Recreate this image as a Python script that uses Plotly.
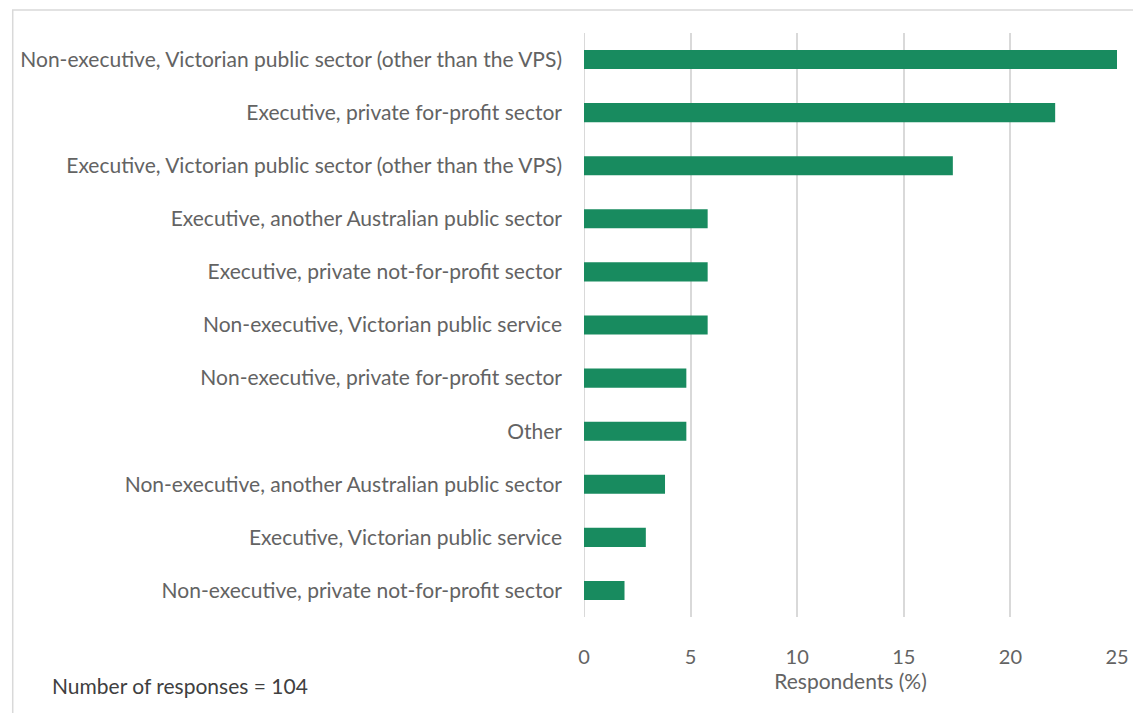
import plotly.graph_objects as go

categories = [
    "Non-executive, Victorian public sector (other than the VPS)",
    "Executive, private for-profit sector",
    "Executive, Victorian public sector (other than the VPS)",
    "Executive, another Australian public sector",
    "Executive, private not-for-profit sector",
    "Non-executive, Victorian public service",
    "Non-executive, private for-profit sector",
    "Other",
    "Non-executive, another Australian public sector",
    "Executive, Victorian public service",
    "Non-executive, private not-for-profit sector",
]
values = [25.0, 22.1, 17.3, 5.8, 5.8, 5.8, 4.8, 4.8, 3.8, 2.9, 1.9]
x_ticks = [0, 5, 10, 15, 20, 25]
note = "Number of responses = 104"
x_title = "Respondents (%)"

FONT = "Lato"
GREY = "#636363"

# page body has an 8px margin, so the figure is drawn 8px in from the corner
W, H = 1133, 705
L, R, T, B = 575, 22, 25, 96
PW, PH = W - L - R, H - T - B


def px(x):
    return (x - L) / PW


def py(y):
    return (H - B - y) / PH


fig = go.Figure(go.Bar(
    x=values, y=categories, orientation="h",
    marker=dict(color="#188B5F", line=dict(width=0)),
    width=0.36,
))

fig.update_layout(
    width=W, height=H,
    margin=dict(l=L, r=R, t=T, b=B),
    plot_bgcolor="white", paper_bgcolor="white",
    font=dict(family=FONT, size=20, color=GREY),
    showlegend=False,
)
fig.update_xaxes(
    range=[0, 25], tickvals=x_ticks, showgrid=True, gridcolor="#d9d9d9", gridwidth=2,
    zeroline=False, showline=False, ticks="", ticklabelstandoff=26,
    tickfont=dict(size=20, color=GREY),
    title=dict(text=x_title, font=dict(size=21, color=GREY), standoff=7),
    fixedrange=True,
)
fig.update_yaxes(
    categoryorder="array", categoryarray=categories[::-1],
    showgrid=False, zeroline=False, showline=False, ticks="",
    ticklabelstandoff=21, tickfont=dict(size=21, color=GREY),
)
fig.add_shape(type="line", xref="x", yref="paper", x0=0, x1=0, y0=0, y1=1,
              line=dict(color="#d9d9d9", width=2), layer="below")
fig.add_shape(type="rect", xref="paper", yref="paper",
              x0=px(0.5), x1=px(1132), y0=py(720), y1=py(2),
              line=dict(color="#d9d9d9", width=1.5), fillcolor="rgba(0,0,0,0)")
fig.add_annotation(text=note, xref="paper", yref="paper",
                   x=px(38), y=py(677),
                   xanchor="left", yanchor="middle", showarrow=False,
                   font=dict(size=21, color="#404040", family=FONT))

fig.write_html("out.html")
